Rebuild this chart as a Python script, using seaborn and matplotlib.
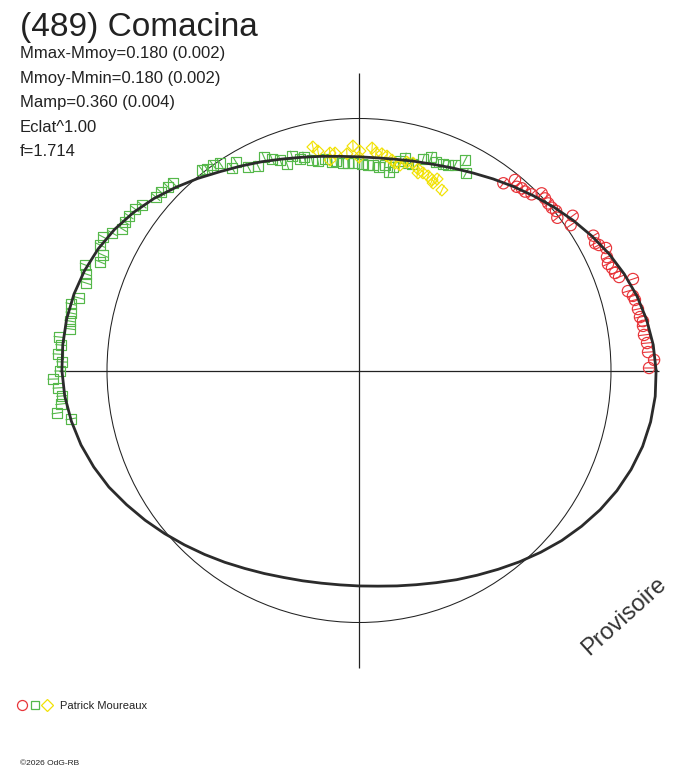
import numpy as np
import pandas as pd
import matplotlib
matplotlib.use("Agg")
import matplotlib.pyplot as plt
from matplotlib.lines import Line2D
from matplotlib.collections import LineCollection
import seaborn as sns

# Polar lightcurve: radius = relative flux, angle = rotational phase
title = "(489) Comacina"
info_lines = [
    "Mmax-Mmoy=0.180 (0.002)",
    "Mmoy-Mmin=0.180 (0.002)",
    "Mamp=0.360 (0.004)",
    "Eclat^1.00",
    "f=1.714",
]
observer = "Patrick Moureaux"

# model curve (phase angle in degrees, relative radius)
curve_angle = list(range(0, 360, 5))
curve_radius = [1.179, 1.172, 1.159, 1.142, 1.120, 1.095, 1.067, 1.038, 1.009,
                0.980, 0.953, 0.928, 0.905, 0.886, 0.870, 0.859, 0.851, 0.847,
                0.848, 0.853, 0.863, 0.876, 0.893, 0.914, 0.937, 0.963, 0.995,
                1.028, 1.062, 1.093, 1.120, 1.142, 1.159, 1.171, 1.178, 1.180,
                1.179, 1.172, 1.159, 1.142, 1.120, 1.095, 1.065, 1.036, 1.007,
                0.979, 0.953, 0.929, 0.907, 0.889, 0.874, 0.864, 0.857, 0.854,
                0.855, 0.859, 0.868, 0.880, 0.896, 0.916, 0.938, 0.963, 0.991,
                1.020, 1.050, 1.078, 1.105, 1.129, 1.149, 1.165, 1.175, 1.180]

# session 1 (red circles)
red_x = [0.573, 0.619, 0.626, 0.646, 0.659, 0.685, 0.725, 0.738, 0.751, 0.765,
         0.782, 0.787, 0.848, 0.840, 0.930, 0.937, 0.952, 0.980, 0.984, 0.988,
         1.004, 1.016, 1.032, 1.087, 1.067, 1.087, 1.095, 1.107, 1.115, 1.127,
         1.127, 1.131, 1.143, 1.147, 1.171, 1.151]
red_y = [0.743, 0.756, 0.729, 0.723, 0.710, 0.699, 0.703, 0.683, 0.663, 0.646,
         0.633, 0.606, 0.614, 0.577, 0.535, 0.505, 0.498, 0.486, 0.450, 0.423,
         0.407, 0.387, 0.371, 0.363, 0.315, 0.296, 0.280, 0.244, 0.212, 0.196,
         0.177, 0.141, 0.109, 0.073, 0.042, 0.010]

# session 2 (green squares)
green_x = [-0.623, -0.603, -0.579, -0.552, -0.504, -0.488, -0.440, -0.401, -0.377,
           -0.345, -0.313, -0.286, -0.266, -0.234, -0.218, -0.187, -0.163, -0.135,
           -0.107, -0.091, -0.063, -0.044, -0.020, 0.012, 0.036, 0.056, 0.079,
           0.103, 0.119, 0.135, 0.163, 0.183, 0.194, 0.210, 0.254, 0.286, 0.306,
           0.333, 0.353, 0.381, 0.421, 0.425,
           -0.738, -0.758, -0.786, -0.806, -0.861, -0.889, -0.913, -0.929, -0.940,
           -0.980, -1.016, -1.028, -1.016, -1.028, -1.087, -1.083, -1.083, -1.111,
           -1.143, -1.143, -1.147, -1.147, -1.190, -1.183, -1.194, -1.179, -1.187,
           -1.214, -1.194, -1.179, -1.183, -1.198, -1.143]
green_y = [0.796, 0.800, 0.815, 0.823, 0.804, 0.827, 0.808, 0.812, 0.847,
           0.839, 0.835, 0.819, 0.851, 0.839, 0.847, 0.835, 0.831, 0.839,
           0.827, 0.831, 0.823, 0.823, 0.823, 0.819, 0.815, 0.815, 0.808,
           0.815, 0.788, 0.808, 0.831, 0.843, 0.823, 0.819, 0.839, 0.847, 0.827,
           0.819, 0.815, 0.815, 0.835, 0.784,
           0.744, 0.728, 0.708, 0.688, 0.657, 0.641, 0.613, 0.589, 0.562,
           0.546, 0.530, 0.498, 0.458, 0.431, 0.419, 0.383, 0.347, 0.288,
           0.264, 0.228, 0.196, 0.165, 0.133, 0.101, 0.065, 0.034, -0.002,
           -0.034, -0.069, -0.101, -0.133, -0.169, -0.192]

# session 3 (yellow diamonds)
yellow_x = [-0.183, -0.163, -0.115, -0.095, -0.115, -0.048, -0.024, 0.004, 0.000,
            0.052, 0.067, 0.091, 0.111, 0.131, 0.143, 0.163, 0.190, 0.214, 0.234,
            0.234, 0.254, 0.274, 0.290, 0.294, 0.310, 0.329]
yellow_y = [0.887, 0.871, 0.863, 0.863, 0.835, 0.860, 0.891, 0.871, 0.847,
            0.883, 0.863, 0.860, 0.851, 0.835, 0.823, 0.815, 0.827, 0.823, 0.800,
            0.784, 0.784, 0.772, 0.756, 0.744, 0.760, 0.716]

sessions = [
    ("s1", red_x, red_y, "o", 66, "#e8353a"),
    ("s2", green_x, green_y, "s", 48, "#55b84a"),
    ("s3", yellow_x, yellow_y, "D", 36, "#f2e205"),
]

W, H = 688, 768
CX, CY, R = 359, 370.5, 252  # pixel position of centre and unit circle radius
ink = "#222222"

sns.set_style("white")
plt.rcParams["font.family"] = ["Liberation Sans", "DejaVu Sans"]

fig = plt.figure(figsize=(W / 100, H / 100), dpi=100)
ax = fig.add_axes([0, 0, 1, 1])
ax.set_xlim(-CX / R, (W - CX) / R)
ax.set_ylim(-(H - CY) / R, CY / R)
ax.set_aspect("equal")
ax.axis("off")

# axes cross and unit circle
ext = 1.18
ax.hlines(0, -ext - 0.01, ext + 0.01, color=ink, lw=0.9, zorder=1)
ax.vlines(0, -ext, ext, color=ink, lw=0.9, zorder=1)
ax.add_patch(plt.Circle((0, 0), 1.0, fill=False, color=ink, lw=0.75, zorder=1))

# data points with small radial error ticks
for name, xs, ys, marker, size, color in sessions:
    sub = pd.DataFrame({"x": xs, "y": ys, "session": name})
    sns.scatterplot(data=sub, x="x", y="y", marker=marker, s=size, ax=ax,
                    legend=False, zorder=3)
    coll = ax.collections[-1]
    coll.set_facecolor("none")
    coll.set_edgecolor(color)
    coll.set_linewidth(0.85)

    px, py = np.array(xs), np.array(ys)
    ang = np.arctan2(py, px)
    half = 0.022
    segs = [[(x0 - half * np.cos(a), y0 - half * np.sin(a)),
             (x0 + half * np.cos(a), y0 + half * np.sin(a))]
            for x0, y0, a in zip(px, py, ang)]
    ax.add_collection(LineCollection(segs, colors=color, linewidths=0.8, zorder=3))

# model curve
th = np.deg2rad(curve_angle + [curve_angle[0]])
rr = np.array(curve_radius + [curve_radius[0]])
sns.lineplot(x=rr * np.cos(th), y=rr * np.sin(th), sort=False, estimator=None,
             color="#2b2b2b", lw=2.0, ax=ax, zorder=4)

# texts
fig.text(20 / W, 1 - 36 / H, title, fontsize=24, color=ink, va="baseline")
for i, line in enumerate(info_lines):
    fig.text(20 / W, 1 - (58 + 24.5 * i) / H, line, fontsize=12, color=ink,
             va="baseline")

fig.text(624 / W, 1 - 616 / H, "Provisoire", fontsize=17, color="#333333",
         rotation=42, ha="center", va="center")

# legend row
for mx, marker, ms, color in [(22, "o", 7.2, "#e8353a"), (35, "s", 5.3, "#55b84a"),
                              (47, "D", 5.9, "#f2e205")]:
    fig.add_artist(Line2D([mx / W], [1 - 705 / H], marker=marker, ms=ms,
                          mfc="none", mec=color, mew=0.9, ls="none",
                          transform=fig.transFigure))
fig.text(60 / W, 1 - 709 / H, observer, fontsize=8, color=ink, va="baseline")
fig.text(20 / W, 1 - 765 / H, "\u00a92026 OdG-RB", fontsize=6, color=ink,
         va="baseline")

fig.savefig("out.png", dpi=100)
